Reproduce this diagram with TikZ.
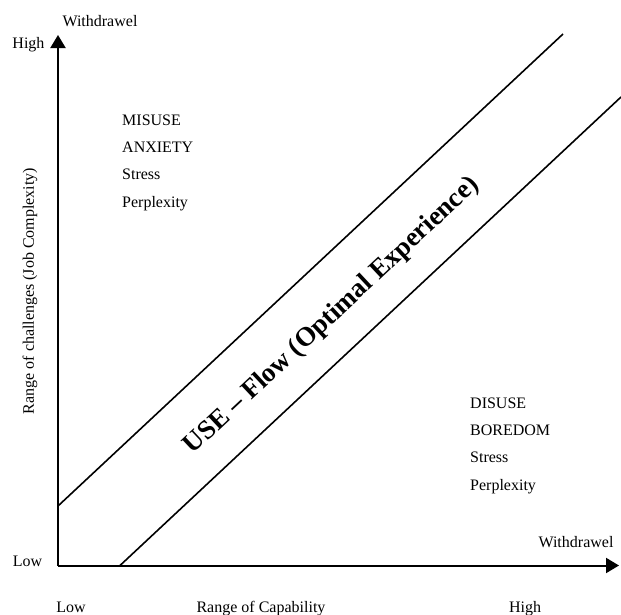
\documentclass[tikz,border=0pt]{standalone}
\usepackage{fontspec}
\setmainfont{Liberation Serif}
\usetikzlibrary{arrows.meta}
\begin{document}
\begin{tikzpicture}[x=1pt,y=-1pt,
  lbl/.style={font=\fontsize{16}{19}\selectfont, inner sep=0pt, anchor=base},
  zone/.style={font=\fontsize{16}{19}\selectfont, inner sep=0pt, anchor=base west},
  axis/.style={line width=2pt, -{Triangle[length=13pt,width=15pt]}},
  band/.style={line width=1.6pt}]
\useasboundingbox (0,0) rectangle (621,614);
\coordinate (O) at (58,565.5);
\coordinate (ytop) at (58,35);
\coordinate (xend) at (619,565.5);
\draw[axis] (O) -- (ytop);
\draw[axis] (O) -- (xend);
\coordinate (u1) at (58,506);
\coordinate (u2) at (563,34);
\coordinate (l1) at (120,565.5);
\coordinate (l2) at (621,97);
\draw[band] (u1) -- (u2);
\draw[band] (l1) -- (l2);
\node[lbl] (wtop) at (100,26) {Withdrawel};
\node[lbl] (high1) at (28.5,48) {High};
\node[lbl] (low1) at (27.5,566) {Low};
\node[lbl] (low2) at (71,612) {Low};
\node[lbl] (cap) at (261,612) {Range of Capability};
\node[lbl] (high2) at (525,612) {High};
\node[lbl] (wright) at (576,547) {Withdrawel};
\node[font=\fontsize{16}{19}\selectfont, inner sep=0pt, rotate=90] (ylab) at (30,291) {Range of challenges (Job Complexity)};
\node[zone] (mis1) at (122,125) {MISUSE};
\node[zone] (mis2) at (122,152.3) {ANXIETY};
\node[zone] (mis3) at (122,179.6) {Stress};
\node[zone] (mis4) at (122,207) {Perplexity};
\node[zone] (dis1) at (470,408) {DISUSE};
\node[zone] (dis2) at (470,435.3) {BOREDOM};
\node[zone] (dis3) at (470,462.6) {Stress};
\node[zone] (dis4) at (470,490) {Perplexity};
\node[font=\fontsize{27}{31}\selectfont\bfseries, inner sep=0pt, rotate=43.1] (flow) at (332,316) {USE -- Flow (Optimal Experience)};
\end{tikzpicture}
\end{document}
